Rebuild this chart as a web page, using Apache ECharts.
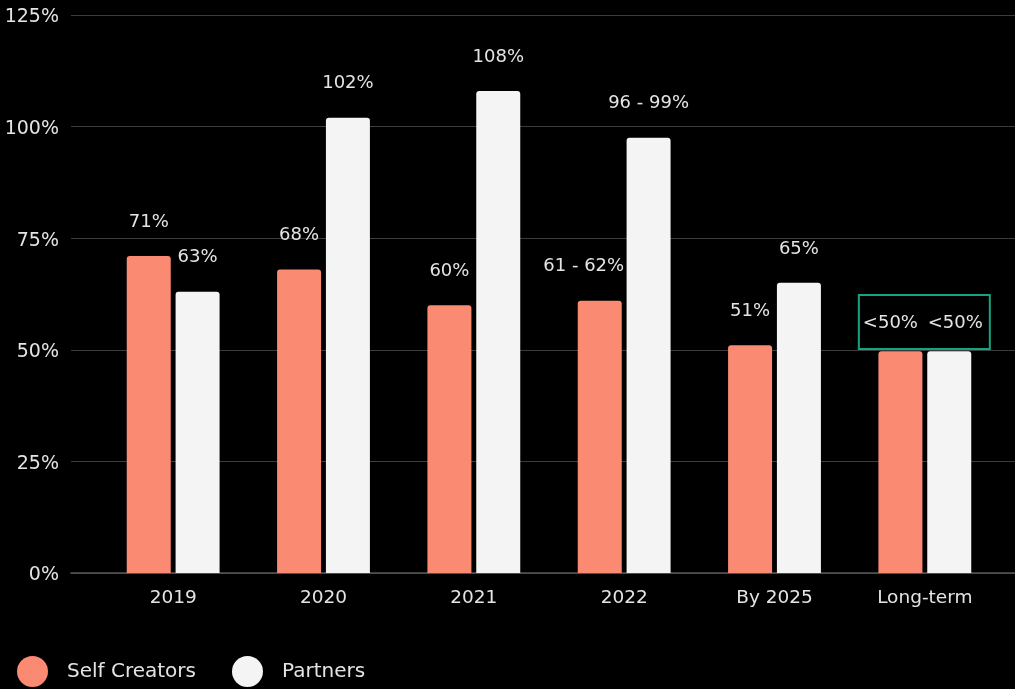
<!DOCTYPE html>
<html>
<head>
<meta charset="utf-8">
<title>Self Creators vs Partners</title>
<script src="https://cdn.jsdelivr.net/npm/echarts@6/dist/echarts.min.js"></script>
<style>
  html, body { margin: 0; padding: 0; background: #000; }
  #chart { width: 1015px; height: 689px; }
</style>
</head>
<body>
<div id="chart"></div>
<script>
// Categories and values
const categories = ['2019', '2020', '2021', '2022', 'By 2025', 'Long-term'];
const selfCreators = [71, 68, 60, 61, 51, 49.7];
const partners = [63, 102, 108, 97.5, 65, 49.7];
const selfLabels = ['71%', '68%', '60%', '61 - 62%', '51%', '<50%'];
const partnerLabels = ['63%', '102%', '108%', '96 - 99%', '65%', '<50%'];
const yTicks = [0, 25, 50, 75, 100, 125];

const FONT = '"DejaVu Sans", sans-serif';
const TEXT = '#e4e4e4';
const ORANGE = '#fa8a72';
const WHITE = '#f4f4f4';
const GREEN = '#17a37f';

// Small horizontal nudges so neighbouring labels do not collide
const selfOffsets = [0, 0, 0, -16, 0, -10];
const partnerOffsets = [0, 0, 0, 0, 0, 6];

function buildData(values, labels, offsets) {
  return values.map((v, i) => {
    const last = i === values.length - 1;
    return {
      value: v,
      label: { formatter: labels[i], distance: last ? 19 : 25, offset: [offsets[i], 0] }
    };
  });
}

const chart = echarts.init(document.getElementById('chart'), null, { renderer: 'canvas' });

const barLabel = {
  show: true,
  position: 'top',
  color: TEXT,
  fontFamily: FONT,
  fontSize: 18
};

chart.setOption({
  backgroundColor: '#000',
  animation: false,
  grid: [
    { left: 71, right: 0, top: 15, bottom: 116 },
    { left: 98, right: 15, top: 15, bottom: 116 }
  ],
  legend: {
    data: ['Self Creators', 'Partners'],
    left: 17,
    top: 656,
    padding: 0,
    icon: 'circle',
    itemWidth: 31,
    itemHeight: 31,
    itemGap: 36,
    textStyle: { color: TEXT, fontFamily: FONT, fontSize: 20, padding: [0, 0, 0, 14] }
  },
  xAxis: [
    {
      gridIndex: 0, type: 'category', data: categories,
      axisLine: { show: true, lineStyle: { color: '#555', width: 1.5 } },
      axisTick: { show: false }, axisLabel: { show: false }
    },
    {
      gridIndex: 1, type: 'category', data: categories,
      axisLine: { show: false }, axisTick: { show: false },
      axisLabel: { color: TEXT, fontFamily: FONT, fontSize: 18.5, margin: 16 }
    }
  ],
  yAxis: [
    {
      gridIndex: 0, type: 'value', min: yTicks[0], max: yTicks[yTicks.length - 1], interval: 25,
      axisLine: { show: false }, axisTick: { show: false },
      axisLabel: {
        margin: 12,
        formatter: '{v|{value}%}',
        rich: {
          v: { color: TEXT, fontFamily: FONT, fontSize: 19, padding: [5, 0, 0, 0] }
        }
      },
      splitLine: { lineStyle: { color: '#3c3c3c', width: 1 } }
    },
    {
      gridIndex: 1, type: 'value', min: yTicks[0], max: yTicks[yTicks.length - 1], interval: 25,
      show: false, splitLine: { show: false }
    }
  ],
  series: [
    {
      name: 'Self Creators', type: 'bar', xAxisIndex: 1, yAxisIndex: 1,
      barWidth: 44, barGap: '11%',
      itemStyle: { color: ORANGE, borderRadius: [3, 3, 0, 0] },
      label: barLabel,
      data: buildData(selfCreators, selfLabels, selfOffsets)
    },
    {
      name: 'Partners', type: 'bar', xAxisIndex: 1, yAxisIndex: 1,
      barWidth: 44,
      itemStyle: { color: WHITE, borderRadius: [3, 3, 0, 0] },
      label: barLabel,
      data: buildData(partners, partnerLabels, partnerOffsets)
    }
  ]
});

// Highlight box around the long-term labels, placed through the axis scales
const boxTop = chart.convertToPixel({ xAxisIndex: 1, yAxisIndex: 1 }, ['Long-term', 62.3]);
const boxBottom = chart.convertToPixel({ xAxisIndex: 1, yAxisIndex: 1 }, ['Long-term', 50.2]);
chart.setOption({
  graphic: [{
    type: 'rect',
    shape: { x: boxTop[0] - 66, y: boxTop[1], width: 131, height: boxBottom[1] - boxTop[1] },
    style: { fill: 'none', stroke: GREEN, lineWidth: 2 },
    z: 10
  }]
});
</script>
</body>
</html>
